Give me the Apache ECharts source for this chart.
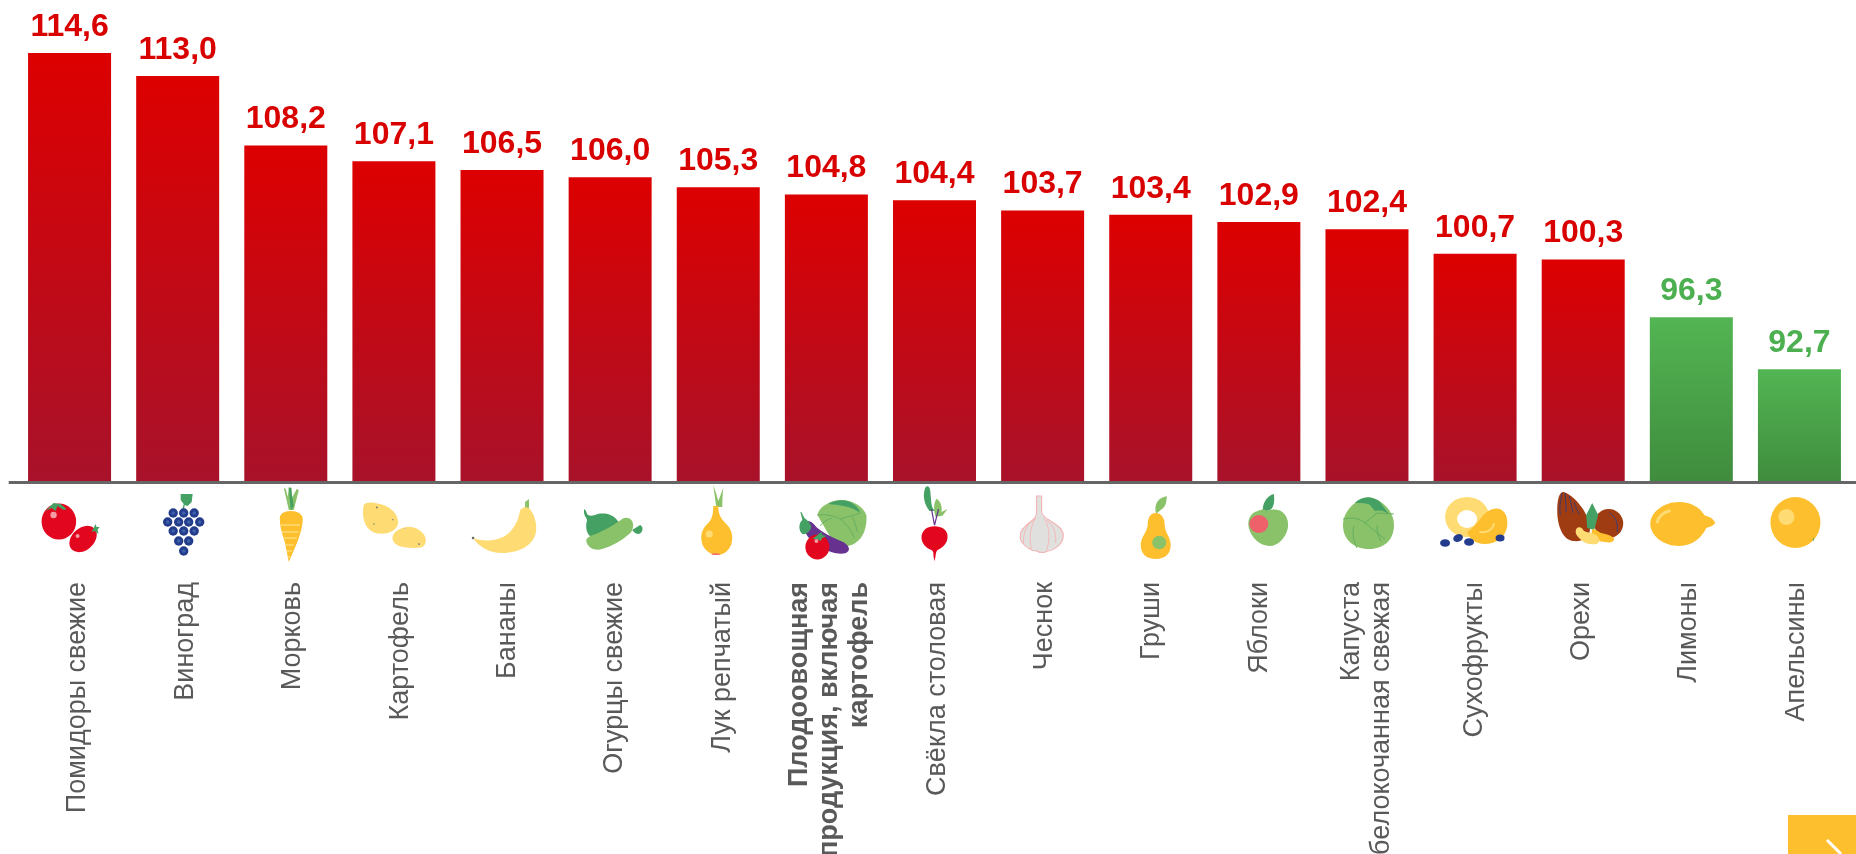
<!DOCTYPE html>
<html><head><meta charset="utf-8">
<script src="https://cdn.jsdelivr.net/npm/echarts@6/dist/echarts.min.js"></script>
<style>html,body{margin:0;padding:0;background:#fff;overflow:hidden}#c{width:1856px;height:854px}</style>
</head><body><div id="c"></div>
<script>
var categories = ['Помидоры свежие','Виноград','Морковь','Картофель','Бананы','Огурцы свежие','Лук репчатый','Плодоовощная\nпродукция, включая\nкартофель','Свёкла столовая','Чеснок','Груши','Яблоки','Капуста\nбелокочанная свежая','Сухофрукты','Орехи','Лимоны','Апельсины'];
var values = [114.6,113.0,108.2,107.1,106.5,106.0,105.3,104.8,104.4,103.7,103.4,102.9,102.4,100.7,100.3,96.3,92.7];
var AXIS_MIN = 84.9, BOLD_CATEGORY = 7;

var R='#e2061e',DG='#45a163',LG='#8ac26a',Y='#fdbf2d',LY='#ffdb73',B='#233c8c',P='#66318f',BR='#a03c12';
// icon art, local coords: origin at category centre on the axis line, y down
var icons = [
 // tomato
 `<ellipse cx="-10.7" cy="39.5" rx="17.3" ry="18" fill="${R}"/><circle cx="-16" cy="33" r="3.2" fill="#f39aa2"/><path d="M-10 22l-6-1-8 8 6-3 4 3 2-5 6 4 3-1-6-5z" fill="${DG}"/><ellipse cx="13.5" cy="57" rx="15.5" ry="11" transform="rotate(-42 13.5 57)" fill="${R}"/><circle cx="8" cy="54" r="2" fill="#f39aa2"/><path d="M24 46l2-4 1 3 3 0-2 3 1 4-4-3-3 1z" fill="${DG}"/>`,
 // grapes
 `<g transform="translate(6 0)"><path d="M-2 30l2-8-3-4v-6h12l-1 8-4 4-3-1-1 7z" fill="${DG}"/>`+[[-10.5,31],[0,31],[10.5,31],[-16,40],[-5,40],[5,40],[16,40],[-10.5,49],[0,49],[10.5,49],[-5,59],[5,59],[0,69]].map(p=>`<circle cx="${p[0]}" cy="${p[1]}" r="4.7" fill="${B}"/><circle cx="${p[0]}" cy="${p[1]}" r="1.8" fill="#3f62ad"/>`).join('')+`</g>`,
 // carrot
 `<path d="M3 28L-2 6l2 1 2 8 1-10 3 1 0 10 5-9 2 1-5 20z" fill="${LG}"/><path d="M5 28L3 6l2 0 3 18z" fill="${DG}"/><path d="M-6 37q0-8 11-8t12 8q0 8-5 22L3 80 -1 60Q-6 46-6 37z" fill="${Y}"/><path d="M-5 43h19M-4 50h17M-2 56h13M0 63h8M1 69h5M2 75h3" stroke="${LY}" stroke-width="1.6"/>`,
 // potatoes
 `<g transform="translate(0 1.1) scale(1 .87)"><path d="M-30 25c-3 14 1 32 15 33 14 1 21-8 19-16-2-10-10-16-18-18-6-2-14-3-16 1z" fill="${LY}"/><path d="M10 51c-9 3-14 10-10 17 4 7 19 7 26 6 7-1 7-10 4-15-4-6-12-11-20-8z" fill="${LY}"/><circle cx="-17" cy="28" r="1" fill="#777"/><circle cx="-1" cy="42" r=".8" fill="#777"/><circle cx="-20" cy="47" r=".8" fill="#777"/><circle cx="25" cy="70" r="1" fill="#777"/><circle cx="11" cy="52" r=".8" fill="#bba"/></g>`,
 // banana
 `<path d="M-29 56C-20 60-2 60 8 50 15 42 17 35 18 28L24 24 27 26C33 33 35 42 34 50 31 65 15 71 0 71-12 71-23 65-29 56z" fill="${LY}"/><path d="M23 25V20L27 17 27 26z" fill="${LG}"/><circle cx="-29" cy="56" r="1.3" fill="#666"/>`,
 // cucumber + pepper
 `<path d="M-26 27c-1 6 2 8 3 11-3 9 1 18 8 18 8 1 18-1 21-2 6-3 6-11 0-17-4-5-14-7-21-4-4 1-7 1-8-1-1-2-1-4-3-5z" fill="${DG}"/><path d="M22 48c4 5 8 5 10 1 1-3 0-5-2-6z" fill="${DG}"/><path d="M-24 58c2-4 7-5 12-7 9-4 17-9 24-14 5-3 11 0 11 6 0 4-2 8-4 9-8 7-17 12-27 15-6 2-15 0-16-9z" fill="${LG}"/>`,
 // onion
 `<path d="M-2 25L-5 3q3 8 5 16L5 6q-1 9-1 19z" fill="${LG}"/><path d="M-5 24h5c0 7 2 12 7 17 5 5 7 9 7 15 0 10-7 17-15 17S-17 66-17 56c0-6 2-10 7-15 4-4 5-10 5-17z" fill="${Y}"/><circle cx="-9" cy="52" r="3.5" fill="${LY}"/><path d="M-7 72q4-2 9 0l-1 1h-7z" fill="#f4796b"/>`,
 // vegetables mix
 `<path d="M-9 33C-7 24 5 18 15 18 27 18 37 25 40 33 41 45 37 56 29 61 23 65 14 66 8 62z" fill="${LG}"/><path d="M2 22C8 18 20 16 27 22 31 25 33 28 34 31 25 24 12 23 2 22z" fill="${DG}"/><path d="M-9 33C0 32 8 34 14 37L34 31 M14 37C20 42 25 48 28 56M6 36C0 38-4 40-6 44M26 35C29 41 30 46 31 50" stroke="#5eab5e" stroke-width=".8" fill="none"/><path d="M-22 40C-16 37-13 42-9 46-3 51 5 55 12 58 21 61 24 66 22 69 19 73 11 72 5 70-6 67-14 61-19 54-22 50-23 45-22 40z" fill="${P}"/><path d="M-26 30L-24 38C-28 41-28 49-24 52-20 53-16 49-15 45-16 41-19 38-22 36L-25 30z" fill="${DG}"/><ellipse cx="-9" cy="65" rx="12" ry="12.500" fill="${R}"/><path d="M-9 53l4-3 1 3 4 1-4 2-2 3-3-2-5 0z" fill="${DG}"/><circle cx="-10" cy="59" r="2" fill="#f39aa2"/>`,
 // beet
 `<g transform="translate(0 .5) scale(1 .95)"><path d="M-5 30C-11 22-12 12-9 5c3-3 5 1 5 7 1 7 0 15 5 18z" fill="${DG}"/><path d="M1 36C-1 28-1 22 2 17c4 2 6 9 5 14l6-3-5 7z" fill="${LG}"/><path d="M0 45L-3 28M0 45L4 28" stroke="${P}" stroke-width="1.2" fill="none"/><path d="M-13 58c0-8 6-12 13-12s14 4 13 12c0 6-6 12-10 13-1 1-2 4-2 7l-1 5-1-5c0-3 0-6-2-7-5-1-10-7-10-13z" fill="${R}"/></g>`,
 // garlic
 `<path d="M-6 14h5v16c1 6 9 8 15 13 7 5 8 11 5 17-3 5-10 9-14 9-3 2-8 2-11 0-5 0-11-4-15-9-3-6-1-12 5-17 6-5 10-7 10-13z" fill="#e0e0de" stroke="#f5b4b4" stroke-width="1.1"/><path d="M-7 36c-5 7-7 20-4 32M1 36c6 8 7 20 3 32M-9 38c-6 4-11 12-10 24M4 38c6 4 10 12 9 23" fill="none" stroke="#f5b4b4" stroke-width=".9"/>`,
 // pear
 `<g transform="translate(5 0)"><path d="M0 30c-1-4 0-9 3-12 3-3 6-3 8-4 0 6-1 11-6 14l-5 4z" fill="${LG}"/><path d="M0 31c6 0 9 6 9 12 0 8 6 12 6 20 0 9-6 14-15 14s-15-5-15-14c0-8 6-12 7-20 0-6 2-12 8-12z" fill="${Y}"/><ellipse cx="3.500" cy="60.500" rx="7" ry="6.800" fill="${LG}"/></g>`,
 // apple
 `<g transform="translate(8 -12)"><path d="M-4 42c-1-7 3-16 11-18 1 7 0 14-4 16z" fill="${DG}"/><path d="M-9 41c4-2 7-2 9 0 4-2 10-2 14 0 6 4 8 10 7 17-2 10-10 18-18 18-10 0-19-9-21-18-2-8 2-16 9-17z" fill="${LG}"/><ellipse cx="-8" cy="54" rx="9.500" ry="9" fill="#ee606a"/></g>`,
 // cabbage
 `<g transform="translate(1 -9)"><path d="M0 24c-12 2-25 14-25 28 0 14 10 24 26 24 15 0 25-9 25-24 0-14-12-26-26-28z" fill="${LG}"/><path d="M-13 30c6-7 18-7 24-2l10 13c-6-4-10-4-14-3l-5-6c-3-2-10-2-15-2z" fill="${DG}"/><path d="M-25 46c8-2 17-1 22 4l12-10 17 1M-3 50c5 4 13 11 20 16M-14 53c-2 8-1 13 3 22M9 52c0 6 1 11 4 16" fill="none" stroke="#5eab5e" stroke-width=".9"/></g>`,
 // dried fruit
 `<ellipse cx="-8" cy="35" rx="22" ry="20" fill="${LY}"/><ellipse cx="-8" cy="37" rx="10" ry="9" fill="#fff"/><path d="M-8 50c5-3 9-8 14-14 5-7 12-11 19-9 7 3 8 12 7 18-2 10-10 17-23 17-8 0-15-5-17-12z" fill="${Y}"/><path d="M5 50c7 1 12-2 14-8" stroke="${LY}" stroke-width="2" fill="none" stroke-linecap="round"/><ellipse cx="-30" cy="61" rx="5" ry="3.800" fill="${B}"/><ellipse cx="-17" cy="56" rx="5" ry="3.800" transform="rotate(-20 -17 56)" fill="${B}"/><ellipse cx="-6" cy="60" rx="5" ry="3.800" fill="${B}"/><ellipse cx="25" cy="56" rx="4.500" ry="3.500" fill="${B}"/>`,
 // nuts
 `<path d="M-20 10C-10 12 5 30 7 45 7 55 0 60-10 59-20 58-26 45-26 28-26 18-24 10-20 10z" fill="${BR}"/><path d="M-21 11C-23 18-24 26-23 33M-18 11C-18 18-17 24-17 30M-14 14C-13 20-11 25-10 31M-9 20C-8 25-6 28-4 32" fill="none" stroke="${B}" stroke-width=".8"/><circle cx="25.500" cy="41.500" r="14.500" fill="${BR}"/><path d="M26 31C32 34 35 40 34 50" fill="none" stroke="${B}" stroke-width=".8"/><path d="M9 21L15 33 11 48 4 46 3 33z" fill="${DG}"/><path d="M9 47c4 0 6 3 9 4 5 1 12 3 13 6 0 3-4 4-9 3-6 0-10-3-14-7z" fill="${Y}"/><path d="M-7 47c2-3 6-2 7 1 2 3 10 2 14 6 3 3 3 7-1 8-6 1-11 0-15-4-3-3-7-6-5-11z" fill="${LY}"/>`,
 // lemon
 `<path d="M-12 20C0 20 9 26 13 33 17 35 21 35 24 41 21 45 17 45 15 46 11 55 1 64-12 64-29 64-41 53-41 42S-29 20-12 20z" fill="${Y}"/><path d="M-34 40c1-5 6-10 12-11" stroke="${LY}" stroke-width="3" fill="none" stroke-linecap="round"/>`,
 // orange
 `<ellipse cx="-4" cy="40.500" rx="25" ry="25.500" fill="${Y}"/><ellipse cx="-13" cy="35" rx="8" ry="8" fill="${LY}"/><path d="M13 58l2-3-1 4z" fill="${DG}"/>`
];
var iconSvg = icons.map(function(s){
  return 'image://data:image/svg+xml;charset=utf-8,'+encodeURIComponent('<svg xmlns="http://www.w3.org/2000/svg" width="108" height="92" viewBox="-54 0 108 92">'+s+'</svg>');
});

var chart = echarts.init(document.getElementById('c'));
var lg = function(a,b){return new echarts.graphic.LinearGradient(0,0,0,1,[{offset:0,color:a},{offset:1,color:b}]);};
chart.setOption({
  animation:false,
  grid:[{left:15.5,right:2.5,top:53,bottom:372,outerBoundsMode:'none'},{left:24.3,right:5.9,top:53,bottom:372,outerBoundsMode:'none'}],
  xAxis:[{type:'category',data:categories,gridIndex:0,axisTick:{show:false},axisLine:{show:false},axisLabel:{show:false}},
   {type:'category',data:categories,gridIndex:1,axisTick:{show:false},axisLine:{show:false},
    axisLabel:{interval:0,rotate:90,margin:100,color:'#595959',fontFamily:'Liberation Sans',fontSize:27,lineHeight:30,hideOverlap:false,
      formatter:function(v,i){return i===BOLD_CATEGORY?'{b|'+v.split('\n').join('}\n{b|')+'}':v;},
      rich:{b:{fontWeight:'bold',fontSize:27,lineHeight:30,color:'#595959',fontFamily:'Liberation Sans'}}}}],
  yAxis:[{type:'value',gridIndex:0,min:AXIS_MIN,max:114.6,show:false,splitLine:{show:false}},
         {type:'value',gridIndex:1,min:AXIS_MIN,max:114.6,show:false,splitLine:{show:false}}],
  series:[{
    type:'bar',barWidth:83,xAxisIndex:0,yAxisIndex:0,
    data:values.map(function(v){var g=v>=100;return {value:v,
      itemStyle:{color:g?lg('#dd0000','#a8122a'):lg('#53b553','#3f8c3d')},
      label:{color:g?'#d90000':'#4caf50'}};}),
    label:{show:true,position:'top',distance:10,fontFamily:'Liberation Sans',fontWeight:'bold',fontSize:32,
      formatter:function(p){return p.value.toFixed(1).replace('.',',');}}
  },{
    type:'scatter',clip:false,silent:true,xAxisIndex:0,yAxisIndex:0,symbolSize:[108,92],symbolOffset:[0,46],itemStyle:{opacity:1},
    data:categories.map(function(c,i){return {value:[i,AXIS_MIN],symbol:iconSvg[i]};})
  }],
  graphic:[
    {type:'rect',z:10,shape:{x:8.7,y:481,width:1847.3,height:3},style:{fill:'#666'}},
    {type:'rect',shape:{x:1788,y:815,width:68,height:39},style:{fill:'#fdbf2d'}},
    {type:'line',shape:{x1:1827,y1:840,x2:1841,y2:854},style:{stroke:'#fff',lineWidth:3}}
  ]
});
</script></body></html>
